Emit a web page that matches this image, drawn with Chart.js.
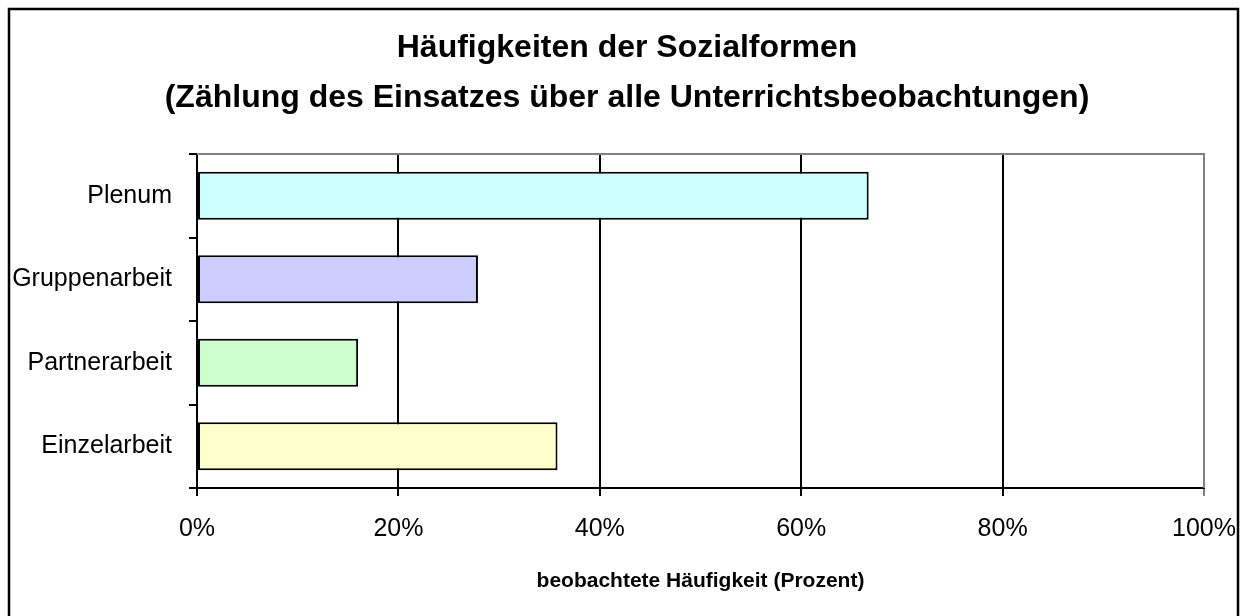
<!DOCTYPE html>
<html lang="de">
<head>
<meta charset="utf-8">
<title>Häufigkeiten der Sozialformen</title>
<script src="https://cdn.jsdelivr.net/npm/chart.js@4/dist/chart.umd.min.js"></script>
<style>
  html, body { margin: 0; padding: 0; background: #fff; }
  canvas { display: block; }
</style>
</head>
<body>
<canvas id="chart" width="1242" height="616"></canvas>
<script>
// ── Data ────────────────────────────────────────────────────
const categories = ["Plenum", "Gruppenarbeit", "Partnerarbeit", "Einzelarbeit"];
const shares = [66.7, 27.9, 16.0, 35.8];
const barColors = ["#ccffff", "#ccccff", "#ccffcc", "#ffffcc"];
const titleLines = [
  "Häufigkeiten der Sozialformen",
  "(Zählung des Einsatzes über alle Unterrichtsbeobachtungen)",
];
const xTitle = "beobachtete Häufigkeit (Prozent)";

const FONT = "'Liberation Sans', Arial, sans-serif";

// ── Frame: white page, black outer border, grey plot border ──
const framePlugin = {
  id: "frame",
  afterLayout(chart) {
    // the original title sits a little right of the plot centre
    if (chart.titleBlock) chart.titleBlock.left += 50;
  },
  beforeDraw(chart) {
    const ctx = chart.ctx;
    ctx.save();
    ctx.fillStyle = "#fff";
    ctx.fillRect(0, 0, chart.width, chart.height);
    ctx.strokeStyle = "#000";
    ctx.lineWidth = 2.5;
    ctx.strokeRect(9, 9, 1229, 700);
    ctx.restore();
  },
  afterDatasetsDraw(chart) {
    const { ctx, chartArea } = chart;
    ctx.save();
    ctx.strokeStyle = "#808080";
    ctx.lineWidth = 2;
    ctx.beginPath();
    ctx.moveTo(chartArea.left, chartArea.top);
    ctx.lineTo(chartArea.right, chartArea.top);
    ctx.lineTo(chartArea.right, chartArea.bottom);
    ctx.stroke();
    ctx.restore();
  },
};

new Chart(document.getElementById("chart"), {
  type: "bar",
  data: {
    labels: categories,
    datasets: [{
      data: shares,
      backgroundColor: barColors,
      borderColor: "#000",
      borderWidth: 2,
      borderSkipped: false,
      categoryPercentage: 1,
      barPercentage: 0.575,
    }],
  },
  options: {
    indexAxis: "y",
    responsive: false,
    animation: false,
    devicePixelRatio: 1,
    layout: { padding: { left: 0, right: 38, top: 0, bottom: 0 } },
    plugins: {
      legend: { display: false },
      tooltip: { enabled: false },
      title: {
        display: true,
        text: titleLines,
        color: "#000",
        font: { family: FONT, size: 32, weight: "bold", lineHeight: 1.5625 },
        padding: { top: 23, bottom: 31 },
      },
    },
    scales: {
      x: {
        min: 0,
        max: 100,
        ticks: {
          stepSize: 20,
          color: "#000",
          padding: 18,
          font: { family: FONT, size: 25 },
          callback: (v) => v + "%",
        },
        grid: {
          color: (c) => (c.tick && c.tick.value === 100 ? "#808080" : "#000"),
          lineWidth: 2,
          tickLength: 8,
        },
        border: { color: "#000", width: 2 },
        title: {
          display: true,
          text: xTitle,
          color: "#000",
          font: { family: FONT, size: 21, weight: "bold" },
          padding: { top: 0, bottom: 22 },
        },
        afterFit: (scale) => {
          scale.height = 128;
          scale.paddingLeft = 0;
          scale.paddingRight = 0;
        },
      },
      y: {
        ticks: {
          color: "#000",
          padding: 17,
          font: { family: FONT, size: 25 },
        },
        grid: {
          offset: true,
          drawOnChartArea: false,
          color: "#000",
          lineWidth: 2,
          tickLength: 8,
        },
        border: { color: "#000", width: 2 },
        afterFit: (scale) => { scale.width = 197; },
      },
    },
  },
  plugins: [framePlugin],
});
</script>
</body>
</html>
